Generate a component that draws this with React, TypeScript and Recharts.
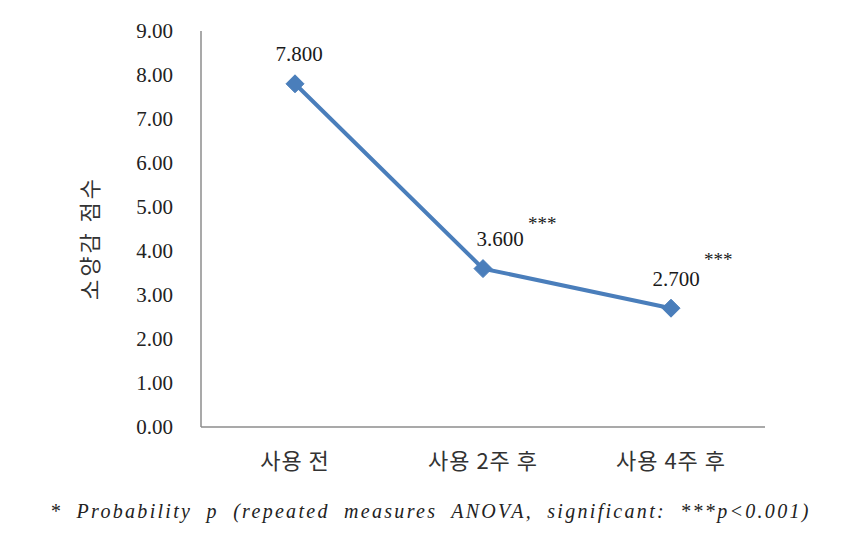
import { LineChart, Line, XAxis, YAxis, LabelList } from "recharts";

const categories = ["사용 전", "사용 2주 후", "사용 4주 후"];
const scores = [7.8, 3.6, 2.7];
const marks = ["", "***", "***"];
const yTicks = [0, 1, 2, 3, 4, 5, 6, 7, 8, 9];

const BLUE = "#4A7EBB";
const AXIS = "#8c8c8c";
const SERIF =
  "'Liberation Serif', 'DejaVu Serif', 'Noto Serif', 'Noto Serif CJK KR', 'Times New Roman', Times, serif";
const KOREAN = "'Noto Sans CJK KR', sans-serif";

// small nudges so the value labels sit where the original puts them
const labelShift = [
  { dx: 4, dy: -30, starDy: 0 },
  { dx: 17, dy: -30, starDy: -15 },
  { dx: 5, dy: -29, starDy: -20 },
];

const data = categories.map((name, i) => ({
  name,
  score: scores[i],
  mark: marks[i],
}));

function Diamond(props: any) {
  const { cx, cy } = props;
  if (cx == null || cy == null) return null;
  const r = 9;
  return (
    <polygon
      points={`${cx},${cy - r} ${cx + r},${cy} ${cx},${cy + r} ${cx - r},${cy}`}
      fill={BLUE}
      stroke={BLUE}
      strokeWidth={1}
    />
  );
}

function ValueLabel(props: any) {
  const { x, y, value, index } = props;
  const s = labelShift[index] || { dx: 0, dy: -30, starDy: -15 };
  const mark = marks[index];
  const cx = x + s.dx;
  const cy = y + s.dy;
  return (
    <g>
      <text
        x={cx}
        y={cy}
        textAnchor="middle"
        dominantBaseline="central"
        style={{ fontFamily: SERIF, fontSize: 21 }}
        fill="#1a1a1a"
      >
        {Number(value).toFixed(3)}
      </text>
      {mark ? (
        <text
          x={cx + 28}
          y={cy + s.starDy}
          textAnchor="start"
          dominantBaseline="central"
          style={{ fontFamily: SERIF, fontSize: 19 }}
          fill="#1a1a1a"
        >
          {mark}
        </text>
      ) : null}
    </g>
  );
}

function YTitle(props: any) {
  const { viewBox } = props;
  const x = viewBox.x + 88;
  const y = viewBox.y + viewBox.height / 2 + 9;
  return (
    <text
      x={x}
      y={y}
      transform={`rotate(-90 ${x} ${y})`}
      textAnchor="middle"
      dominantBaseline="central"
      style={{ fontFamily: KOREAN, fontSize: 22, letterSpacing: 3 }}
      fill="#333333"
    >
      소양감 점수
    </text>
  );
}

export default function App() {
  return (
    <div
      style={{
        position: "relative",
        width: 860,
        height: 543,
        margin: -8,
        background: "#ffffff",
      }}
    >
      <LineChart
        width={860}
        height={543}
        data={data}
        margin={{ top: 31, right: 95, bottom: 56, left: 0 }}
      >
        <XAxis
          dataKey="name"
          scale="band"
          height={60}
          tickSize={0}
          tickMargin={26}
          axisLine={{ stroke: AXIS, strokeWidth: 1.5 }}
          tickLine={false}
          tick={{
            fontFamily: KOREAN,
            fontSize: 22,
            letterSpacing: 1,
            fill: "#333333",
          }}
        />
        <YAxis
          width={201}
          domain={[0, 9]}
          ticks={yTicks}
          interval={0}
          tickSize={0}
          tickMargin={28}
          tickFormatter={(v: number) => v.toFixed(2)}
          axisLine={{ stroke: AXIS, strokeWidth: 1.5 }}
          tickLine={false}
          tick={{ fontFamily: SERIF, fontSize: 21, fill: "#222222" }}
          label={<YTitle />}
        />
        <Line
          type="linear"
          dataKey="score"
          stroke={BLUE}
          strokeWidth={4}
          dot={<Diamond />}
          activeDot={false}
          isAnimationActive={false}
        >
          <LabelList dataKey="score" content={<ValueLabel />} />
        </Line>
      </LineChart>
      <div
        style={{
          position: "absolute",
          left: 50,
          top: 500,
          fontFamily: SERIF,
          fontStyle: "italic",
          fontSize: 20,
          letterSpacing: 2.3,
          wordSpacing: 7,
          color: "#222222",
          whiteSpace: "nowrap",
        }}
      >
        * Probability p (repeated measures ANOVA, significant: ***p&lt;0.001)
      </div>
    </div>
  );
}
